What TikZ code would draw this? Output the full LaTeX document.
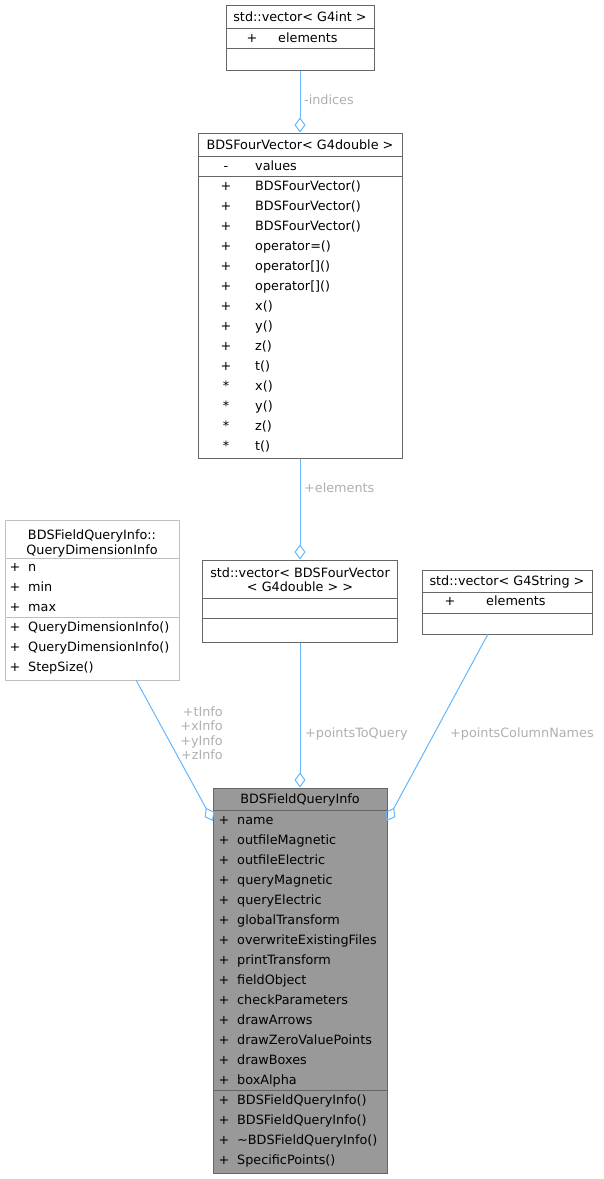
\documentclass[tikz,border=0pt]{standalone}
\usepackage{fontspec}
\setmainfont{DejaVu Sans}
\usetikzlibrary{arrows.meta}
\definecolor{edgeblue}{HTML}{63B8FF}
\definecolor{lblgray}{HTML}{B0B0B0}
\definecolor{boxgray}{HTML}{666666}
\definecolor{lightborder}{HTML}{BFBFBF}
\definecolor{fillgray}{HTML}{999999}
\newcommand{\dfont}{\fontsize{12.8}{14.5}\selectfont}
\begin{document}
\begin{tikzpicture}[x=1pt,y=-1pt,
  box/.style={draw=boxgray, line width=1pt, fill=white, inner sep=0pt, rectangle},
  txt/.style={inner sep=0pt, anchor=base west, font=\dfont},
  sym/.style={inner sep=0pt, anchor=base, font=\dfont},
  ctxt/.style={inner sep=0pt, anchor=base, font=\dfont},
  lbl/.style={inner sep=0pt, anchor=base west, text=lblgray, font=\dfont},
  lblr/.style={inner sep=0pt, anchor=base east, text=lblgray, font=\dfont},
  sepline/.style={draw=boxgray, line width=1pt},
  conn/.style={draw=edgeblue, line width=1pt, -{Diamond[open, length=15pt, width=11pt, line width=1pt]}}]
\useasboundingbox (0,0) rectangle (603,1179);
\fill[white] (0,0) rectangle (603,1179);

% Box 1: std::vector< G4int >
\node[box, minimum width=148pt, minimum height=65pt] (vint) at (300,37.5) {};
\draw[sepline] (226,28) -- (374,28);
\draw[sepline] (226,48) -- (374,48);
\node[ctxt] (vintt) at (300,21.5) {std::vector< G4int >};
\node[sym] (vints) at (252,42.5) {+};
\node[txt] (vintm) at (278,42.5) {elements};

% Box 2: BDSFourVector< G4double >
\node[box, minimum width=204pt, minimum height=325pt] (fv) at (300,295.5) {};
\draw[sepline] (198,156) -- (402,156);
\draw[sepline] (198,176) -- (402,176);
\node[ctxt] (fvt) at (300,149.5) {BDSFourVector< G4double >};
\node[sym] (fva) at (226,170.5) {-};
\node[txt] (fvan) at (255,170.5) {values};
\foreach \s/\t [count=\i from 0] in {+/BDSFourVector(), +/BDSFourVector(), +/BDSFourVector(), +/operator=(), +/{operator[]()}, +/{operator[]()}, +/x(), +/y(), +/z(), +/t(), */x(), */y(), */z(), */t()} {
  \node[sym] (fvs\i) at (226,190.5+20*\i) {\s};
  \node[txt] (fvm\i) at (255,190.5+20*\i) {\t};
}

% Box 3: BDSFieldQueryInfo::QueryDimensionInfo
\node[box, draw=lightborder, minimum width=174pt, minimum height=160pt] (qdi) at (92,600) {};
\draw[sepline, draw=lightborder] (5,558) -- (179,558);
\draw[sepline, draw=lightborder] (5,617) -- (179,617);
\node[ctxt] (qdit1) at (92,539.5) {BDSFieldQueryInfo::};
\node[ctxt] (qdit2) at (92,554) {QueryDimensionInfo};
\foreach \t [count=\i from 0] in {n, min, max, QueryDimensionInfo(), QueryDimensionInfo(), StepSize()} {
  \node[sym] (qdis\i) at (15,571.5+20*\i) {+};
  \node[txt] (qdim\i) at (28,571.5+20*\i) {\t};
}

% Box 4: std::vector< BDSFourVector< G4double > >
\node[box, minimum width=195pt, minimum height=82pt] (vfv) at (300,601) {};
\draw[sepline] (202.5,598) -- (397.5,598);
\draw[sepline] (202.5,618) -- (397.5,618);
\node[ctxt] (vfvt1) at (300,577.5) {std::vector< BDSFourVector};
\node[ctxt] (vfvt2) at (300,591.5) {< G4double > >};

% Box 5: std::vector< G4String >
\node[box, minimum width=170pt, minimum height=64pt] (vstr) at (507,602) {};
\draw[sepline] (422,592) -- (592,592);
\draw[sepline] (422,613) -- (592,613);
\node[ctxt] (vstrt) at (507,585.5) {std::vector< G4String >};
\node[sym] (vstrs) at (450,605.5) {+};
\node[txt] (vstrm) at (486,605.5) {elements};

% Box 6: BDSFieldQueryInfo
\node[box, fill=fillgray, minimum width=174pt, minimum height=385pt] (bfq) at (300,980.5) {};
\draw[sepline] (213,810) -- (387,810);
\draw[sepline] (213,1090) -- (387,1090);
\node[ctxt] (bfqt) at (300,803.5) {BDSFieldQueryInfo};
\foreach \t [count=\i from 0] in {name, outfileMagnetic, outfileElectric, queryMagnetic, queryElectric, globalTransform, overwriteExistingFiles, printTransform, fieldObject, checkParameters, drawArrows, drawZeroValuePoints, drawBoxes, boxAlpha, BDSFieldQueryInfo(), BDSFieldQueryInfo(), \textasciitilde BDSFieldQueryInfo(), SpecificPoints()} {
  \node[sym] (bfqs\i) at (224,824.5+20*\i) {+};
  \node[txt] (bfqm\i) at (237,824.5+20*\i) {\t};
}

% Connectors
\coordinate (qdiout) at (136,680);
\coordinate (bfqL) at (213,821);
\coordinate (vstrout) at (488,634);
\coordinate (bfqR) at (387,821);
\draw[conn] (vint.south) -- (fv.north);
\draw[conn] (fv.south) -- (vfv.north);
\draw[conn] (vfv.south) -- (bfq.north);
\draw[conn] (qdiout) -- (bfqL);
\draw[conn] (vstrout) -- (bfqR);

% Labels
\node[lbl] (l1) at (304,104.5) {-indices};
\node[lbl] (l2) at (304,492.5) {+elements};
\node[lbl] (l3) at (305,737.5) {+pointsToQuery};
\node[lbl] (l4) at (450,737.5) {+pointsColumnNames};
\node[lblr] (l5) at (223,716.5) {+tInfo};
\node[lblr] (l6) at (223,730.5) {+xInfo};
\node[lblr] (l7) at (223,745) {+yInfo};
\node[lblr] (l8) at (223,759.5) {+zInfo};
\end{tikzpicture}
\end{document}
